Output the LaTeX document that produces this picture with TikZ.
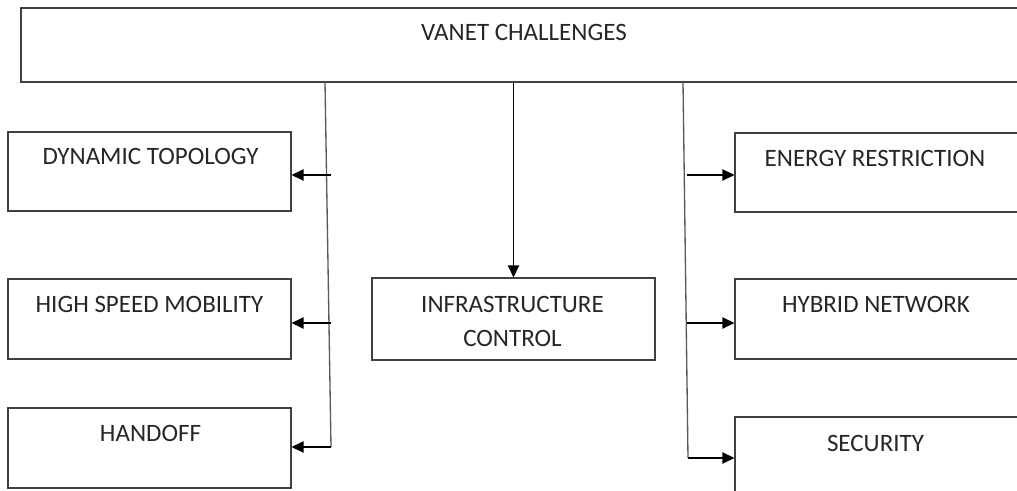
\documentclass[tikz,border=0pt]{standalone}
\usepackage{fontspec}
\setmainfont{Carlito}
\usetikzlibrary{arrows.meta, positioning, calc}

\begin{document}
\begin{tikzpicture}[
	x=0.75pt, y=-0.75pt,
	every node/.style={font=\fontsize{18.75}{25.5}\selectfont},
	module/.style={rectangle, draw=black!75, line width=0.9pt, minimum width=212.25pt, minimum height=60pt, inner sep=0pt},
	caption/.style={anchor=base, inner sep=0pt, align=center, text=black!85},
	trunk/.style={draw=black!65, line width=1pt},
	arrow/.style={-{Triangle[length=9pt, width=8.5pt]}, line width=1pt}
]
\useasboundingbox (0,0) rectangle (1017,491);

% Top module
\node[module, minimum width=762pt, minimum height=55.5pt] (chal) at (529,45) {};
\node[caption] (chalT) at (524,41) {VANET CHALLENGES};

% Modules on the left
\node[module, minimum height=59.25pt] (dynTop) at (149.5,171.5) {};
\node[module] (hiSpeed) at (149.5,319) {};
\node[module] (handoff) at (149.5,448) {};
\node[caption] (dynTopT) at ($(dynTop.north)+(1,33.5)$) {DYNAMIC TOPOLOGY};
\node[caption] (hiSpeedT) at ($(hiSpeed.north)+(0,33.7)$) {HIGH SPEED MOBILITY};
\node[caption] (handoffT) at ($(handoff.north)+(1,33.7)$) {HANDOFF};

% Module in the middle
\node[module, minimum height=61.5pt] (infra) at (513.5,319) {};
\node[caption] (infraT) at ($(infra.north)+(-1,69.3)$) {INFRASTRUCTURE\\CONTROL};

% Modules on the right
\node[module, minimum width=214.5pt, minimum height=59.25pt] (energy) at (878,172.5) {};
\node[module, minimum width=214.5pt] (hybrid) at (878,319) {};
\node[module, minimum width=214.5pt] (secur) at (878,457) {};
\node[caption] (energyT) at (875,166.7) {ENERGY RESTRICTION};
\node[caption] (hybridT) at (876,312.7) {HYBRID NETWORK};
\node[caption] (securT) at (875.5,451.7) {SECURITY};

% Left branch
\coordinate (lTop) at (325,82);
\coordinate (lBot) at (331,447);
\coordinate (lDyn) at (331,175);
\coordinate (lHi) at (331,323);
\draw[trunk] (lTop) -- (lBot);
\draw[arrow] (lDyn) -- (lDyn -| dynTop.east);
\draw[arrow] (lHi) -- (lHi -| hiSpeed.east);
\draw[arrow] (lBot) -- (lBot -| handoff.east);

% Middle branch
\draw[arrow] (chal.south -| infra.north) -- (infra.north);

% Right branch
\coordinate (rTop) at (683,82);
\coordinate (rBot) at (688,458);
\coordinate (rEn) at (687,175);
\coordinate (rHy) at (687,323);
\draw[trunk] (rTop) -- (rBot);
\draw[arrow] (rEn) -- (rEn -| energy.west);
\draw[arrow] (rHy) -- (rHy -| hybrid.west);
\draw[arrow] (rBot) -- (rBot -| secur.west);

\end{tikzpicture}
\end{document}
